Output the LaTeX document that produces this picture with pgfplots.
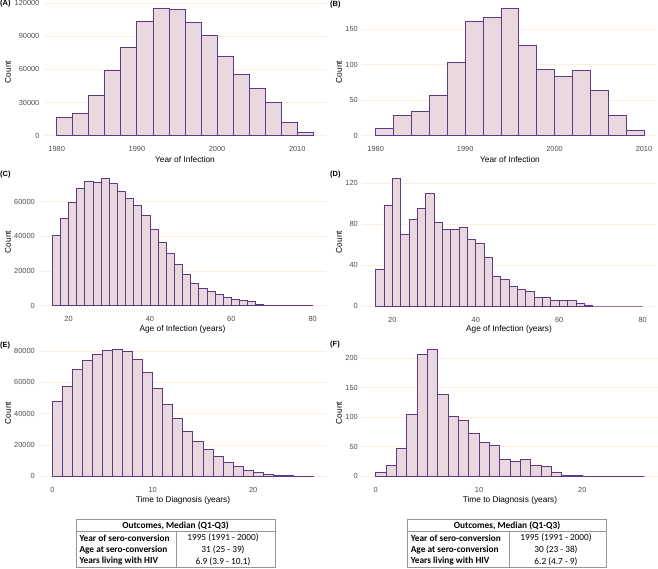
\documentclass[border=0pt]{standalone}
\usepackage{fontspec}
\setmainfont{Liberation Sans}
\newfontfamily\tabfont{Carlito}
\usepackage{pgfplots}
\pgfplotsset{compat=1.18}
\definecolor{barfill}{RGB}{233,215,222}
\definecolor{baredge}{RGB}{92,58,132}
\definecolor{gridc}{RGB}{252,237,224}
\definecolor{tickc}{RGB}{77,77,77}
\definecolor{tabline}{RGB}{150,150,150}
\pgfplotsset{hist/.style={
  scale only axis, anchor=south west,
  axis line style={draw=none}, major tick length=0pt, tick style={draw=none},
  ymajorgrids, major grid style={gridc, line width=0.6pt},
  scaled ticks=false,
  /pgf/number format/fixed,
  /pgf/number format/precision=0,
  /pgf/number format/1000 sep={},
  /pgf/number format/assume math mode=true,
  tick label style={font=\fontsize{7.4}{8}\selectfont, text=tickc},
  yticklabel style={xshift=-1pt},
  xticklabel style={yshift=-1pt},
},
bars/.style={ybar interval, fill=barfill, draw=baredge, line width=0.8pt}}
\begin{document}
\begin{tikzpicture}[x=1pt,y=1pt]
\useasboundingbox (0pt,0pt) rectangle (658pt,568pt);
% (A)
\begin{axis}[hist, at={(43.9pt,425.9pt)}, width=282.2pt, height=140.2pt,
  xmin=1978.4, xmax=2013.6, ymin=-5760, ymax=120960,
  xtick={1980,1990,2000,2010}, ytick={0,30000,60000,90000,120000}]
\addplot[bars] coordinates {(1980,16600)(1982,20200)(1984,36200)(1986,59100)(1988,79600)(1990,103700)(1992,115200)(1994,114300)(1996,102800)(1998,90500)(2000,72100)(2002,55200)(2004,42800)(2006,29800)(2008,12100)(2010,3000)(2012,0)};
\end{axis}
% (B)
\begin{axis}[hist, at={(362.3pt,425.9pt)}, width=295.1pt, height=140.5pt,
  xmin=1978.5, xmax=2011.5, ymin=-9, ymax=189,
  xtick={1980,1990,2000,2010}, ytick={0,50,100,150}]
\addplot[bars] coordinates {(1980,11)(1982,29)(1984,34)(1986,57)(1988,104)(1990,161)(1992,167)(1994,180)(1996,127)(1998,94)(2000,84)(2002,92)(2004,64)(2006,28)(2008,7)(2010,0)};
\end{axis}
% (C)
\begin{axis}[hist, at={(39.3pt,255.9pt)}, width=286.4pt, height=140.1pt,
  xmin=12.8, xmax=83.2, ymin=-3673, ymax=77133,
  xtick={20,40,60,80}, ytick={0,20000,40000,60000}]
\addplot[bars] coordinates {(16,40380)(18,50380)(20,59600)(22,67700)(24,71700)(26,71150)(28,73460)(30,70400)(32,66150)(34,61900)(36,58080)(38,52300)(40,43850)(42,36540)(44,30380)(46,23850)(48,18080)(50,12900)(52,9800)(54,8270)(56,6540)(58,4600)(60,3850)(62,3080)(64,2500)(66,960)(68,400)(70,100)(72,50)(74,20)(76,10)(78,5)(80,0)};
\end{axis}
% (D)
\begin{axis}[hist, at={(362.3pt,255.6pt)}, width=293.7pt, height=140.6pt,
  xmin=12.8, xmax=83.2, ymin=-6.25, ymax=131.25,
  xtick={20,40,60,80}, ytick={0,40,80,120}]
\addplot[bars] coordinates {(16,36)(18,98)(20,125)(22,70)(24,85)(26,95)(28,110)(30,82)(32,75)(34,75)(36,77)(38,65)(40,61)(42,48)(44,29)(46,26)(48,19)(50,16)(52,14)(54,8)(56,8)(58,5)(60,5)(62,5)(64,3)(66,1)(68,0)(70,0)(72,0)(74,0)(76,0)(78,0)(80,0)};
\end{axis}
% (E)
\begin{axis}[hist, at={(39.3pt,85.4pt)}, width=287.1pt, height=139.6pt,
  xmin=-1.3, xmax=27.3, ymin=-4053, ymax=85113,
  xtick={0,10,20}, ytick={0,20000,40000,60000,80000}]
\addplot[bars] coordinates {(0,47870)(1,57450)(2,68090)(3,73830)(4,77660)(5,80210)(6,81060)(7,79570)(8,74470)(9,66170)(10,55960)(11,45740)(12,36810)(13,28720)(14,22340)(15,17230)(16,12550)(17,8720)(18,6170)(19,4040)(20,2550)(21,1490)(22,850)(23,425)(24,200)(25,100)(26,0)};
\end{axis}
% (F)
\begin{axis}[hist, at={(362.3pt,85.4pt)}, width=295.4pt, height=139.2pt,
  xmin=-1.3, xmax=27.3, ymin=-10.7, ymax=224.7,
  xtick={0,10,20}, ytick={0,50,100,150,200}]
\addplot[bars] coordinates {(0,6)(1,18)(2,47)(3,105)(4,206)(5,214)(6,138)(7,101)(8,94)(9,72)(10,57)(11,52)(12,28)(13,25)(14,28)(15,18)(16,16)(17,7)(18,2)(19,2)(20,0)(21,0)(22,0)(23,0)(24,0)(25,0)(26,0)};
\end{axis}
% tags
\begin{scope}[font=\bfseries\fontsize{7.5}{8}\selectfont]
\node[anchor=west, inner sep=0pt] at (0pt,564pt) {(A)};
\node[anchor=west, inner sep=0pt] at (330pt,563pt) {(B)};
\node[anchor=west, inner sep=0pt] at (0pt,393pt) {(C)};
\node[anchor=west, inner sep=0pt] at (330pt,393pt) {(D)};
\node[anchor=west, inner sep=0pt] at (0pt,222pt) {(E)};
\node[anchor=west, inner sep=0pt] at (330pt,223pt) {(F)};
\end{scope}
% axis titles
\begin{scope}[font=\fontsize{8.3}{9}\selectfont]
\node[rotate=90] at (8pt,496pt) {Count};
\node[rotate=90] at (339pt,496pt) {Count};
\node[rotate=90] at (8pt,326pt) {Count};
\node[rotate=90] at (339pt,326pt) {Count};
\node[rotate=90] at (8pt,155pt) {Count};
\node[rotate=90] at (339pt,155pt) {Count};
\node at (185pt,408.5pt) {Year of Infection};
\node at (510pt,408.5pt) {Year of Infection};
\node at (182.5pt,239pt) {Age of Infection (years)};
\node at (509pt,239pt) {Age of Infection (years)};
\node at (183pt,68pt) {Time to Diagnosis (years)};
\node at (510pt,68pt) {Time to Diagnosis (years)};
\end{scope}
% tables
\begin{scope}[font=\tabfont\fontsize{9.3}{10}\selectfont]
\draw[tabline, line width=0.6pt] (76pt,48.7pt) rectangle (275pt,0.9pt);
\draw[tabline, line width=0.6pt] (76pt,37pt) -- (275pt,37pt);
\draw[tabline, line width=0.6pt] (176pt,37pt) -- (176pt,0.9pt);
\node at (175.5pt,42.5pt) {\bfseries Outcomes, Median (Q1-Q3)};
\node[anchor=west] at (76pt,30pt) {\bfseries Year of sero-conversion};
\node[anchor=west] at (76pt,18.3pt) {\bfseries Age at sero-conversion};
\node[anchor=west] at (76pt,6.7pt) {\bfseries Years living with HIV};
\node at (223pt,30pt) {1995 (1991 - 2000)};
\node at (223pt,18.3pt) {31 (25 - 39)};
\node at (223pt,6.7pt) {6.9 (3.9 - 10.1)};
\draw[tabline, line width=0.6pt] (407.3pt,48.7pt) rectangle (606.7pt,0.9pt);
\draw[tabline, line width=0.6pt] (407.3pt,37pt) -- (606.7pt,37pt);
\draw[tabline, line width=0.6pt] (509pt,37pt) -- (509pt,0.9pt);
\node at (507pt,42.5pt) {\bfseries Outcomes, Median (Q1-Q3)};
\node[anchor=west] at (407.3pt,30pt) {\bfseries Year of sero-conversion};
\node[anchor=west] at (407.3pt,18.3pt) {\bfseries Age at sero-conversion};
\node[anchor=west] at (407.3pt,6.7pt) {\bfseries Years living with HIV};
\node at (556pt,30pt) {1995 (1991 - 2000)};
\node at (556pt,18.3pt) {30 (23 - 38)};
\node at (556pt,6.7pt) {6.2 (4.7 - 9)};
\end{scope}
\end{tikzpicture}
\end{document}
